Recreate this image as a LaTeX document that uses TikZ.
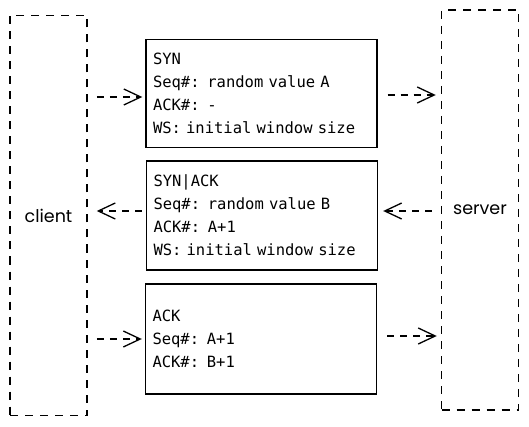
\documentclass[tikz,border=0pt]{standalone}
\usepackage{fontspec}
\setmonofont{DejaVu Sans Mono}
\newfontfamily\handfont{Poppins}
\usetikzlibrary{arrows.meta}
\tikzset{
  party/.style={draw, line width=1.5pt, dash pattern=on 8pt off 7pt,
    minimum width=77pt, minimum height=400pt, inner sep=0pt,
    font=\handfont\fontsize{17.5}{20}\selectfont},
  msgbox/.style={draw, line width=1.4pt, text width=217pt, align=left,
    inner xsep=7pt, inner ysep=0pt, minimum height=108pt,
    font=\ttfamily\fontsize{15.5}{23}\selectfont},
  arr/.style={line width=1.3pt, dash pattern=on 7pt off 6pt,
    -{Straight Barb[length=17pt,width=16pt,line width=1.3pt]}}
}
\begin{document}
\begin{tikzpicture}[x=1pt,y=-1pt]
\useasboundingbox (0,0) rectangle (529,427);
\node[party] (client) at (48.5,215.5) {client};
\node[party] (server) at (480,210) {server};
\node[msgbox] (b1) at (261.5,93.5) {SYN\\Seq\#: random value A\\ACK\#: -\\WS: initial window size};
\node[msgbox, minimum height=109pt] (b2) at (262,215.5) {SYN|ACK\\Seq\#: random value B\\ACK\#: A+1\\WS: initial window size};
\node[msgbox, minimum height=110pt] (b3) at (261,339) {ACK\\Seq\#: A+1\\ACK\#: B+1};
\draw[arr, shorten <=9pt, shorten >=3pt] (client.east |- 0,97) -- (b1.west |- 0,97);
\draw[arr, shorten <=10pt, shorten >=5pt] (b1.east |- 0,95) -- (server.west |- 0,95);
\draw[arr, shorten <=9pt, shorten >=5pt] (server.west |- 0,211) -- (b2.east |- 0,211);
\draw[arr, shorten <=4pt, shorten >=9pt] (b2.west |- 0,211) -- (client.east |- 0,211);
\draw[arr, shorten <=9pt, shorten >=3pt] (client.east |- 0,339) -- (b3.west |- 0,339);
\draw[arr, shorten <=10pt, shorten >=4pt] (b3.east |- 0,336) -- (server.west |- 0,336);
\end{tikzpicture}
\end{document}
